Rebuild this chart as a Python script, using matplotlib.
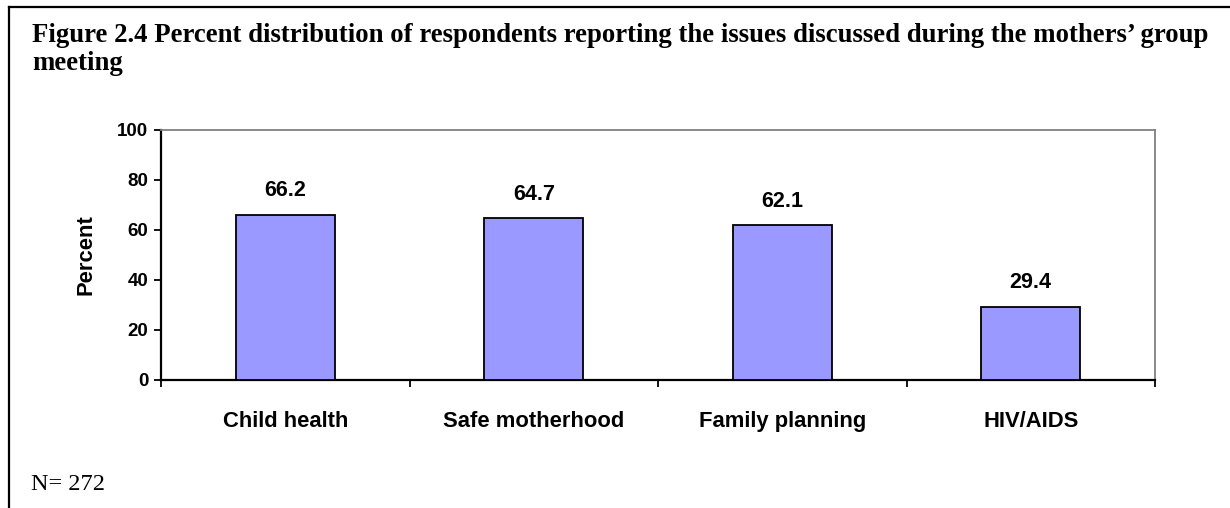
import matplotlib
matplotlib.use("Agg")
import matplotlib.pyplot as plt
from matplotlib.lines import Line2D
import numpy as np

categories = ["Child health", "Safe motherhood", "Family planning", "HIV/AIDS"]
values = [66.2, 64.7, 62.1, 29.4]
yticks = [0, 20, 40, 60, 80, 100]

title_lines = ["Figure 2.4 Percent distribution of respondents reporting the issues discussed during the mothers\u2019 group",
               "meeting"]
note = "N= 272"

W, H = 1230, 508
fig = plt.figure(figsize=(W / 100, H / 100), dpi=100)
fig.patch.set_facecolor("white")

# border lines (top and left)
fig.add_artist(Line2D([9 / W, 9 / W], [0, 1 - 7 / H], color="black", lw=1.6,
                      transform=fig.transFigure))
fig.add_artist(Line2D([9 / W, 1], [1 - 7 / H, 1 - 7 / H], color="black", lw=1.6,
                      transform=fig.transFigure))

for i, line in enumerate(title_lines):
    fig.text(32 / W, 1 - (42 + 28.5 * i) / H, line, fontfamily="Liberation Serif",
             fontweight="bold", fontsize=19.25, ha="left", va="baseline")
fig.text(31 / W, 1 - 490 / H, note, fontfamily="Liberation Serif", fontsize=17.5,
         ha="left", va="baseline")

ax = fig.add_axes([161 / W, (H - 380) / H, (1155 - 161) / W, 250 / H])
x = np.arange(len(categories))
ax.bar(x, values, width=0.40, color="#9999FF", edgecolor="black", linewidth=1.3, zorder=3)

ax.set_xlim(-0.5, len(categories) - 0.5)
ax.set_ylim(0, 100)
ax.set_yticks(yticks)
ax.set_yticklabels([str(t) for t in yticks], fontfamily="Liberation Sans",
                   fontweight="bold", fontsize=13.5)
ax.tick_params(axis="y", direction="out", length=5, width=1.3, pad=4, color="black")

ax.set_xticks(np.arange(len(categories) + 1) - 0.5)
ax.set_xticklabels([])
ax.tick_params(axis="x", which="major", direction="out", length=5, width=1.3, color="black")
ax.set_xticks(x, minor=True)
ax.set_xticklabels(categories, minor=True, fontfamily="Liberation Sans",
                   fontweight="bold", fontsize=15.8)
ax.tick_params(axis="x", which="minor", length=0, pad=22)

for s in ["left", "bottom"]:
    ax.spines[s].set_color("black")
    ax.spines[s].set_linewidth(1.6)
for s in ["top", "right"]:
    ax.spines[s].set_color("#808080")
    ax.spines[s].set_linewidth(1.3)

ax.set_ylabel("Percent", fontfamily="Liberation Sans", fontweight="bold", fontsize=15.8,
              labelpad=15)

for xi, v in zip(x, values):
    ax.annotate(f"{v:.1f}", (xi, v), xytext=(0, 13), textcoords="offset points",
                ha="center", va="baseline", fontfamily="Liberation Sans",
                fontweight="bold", fontsize=15.5)

fig.savefig("out.png", dpi=100, facecolor="white")
